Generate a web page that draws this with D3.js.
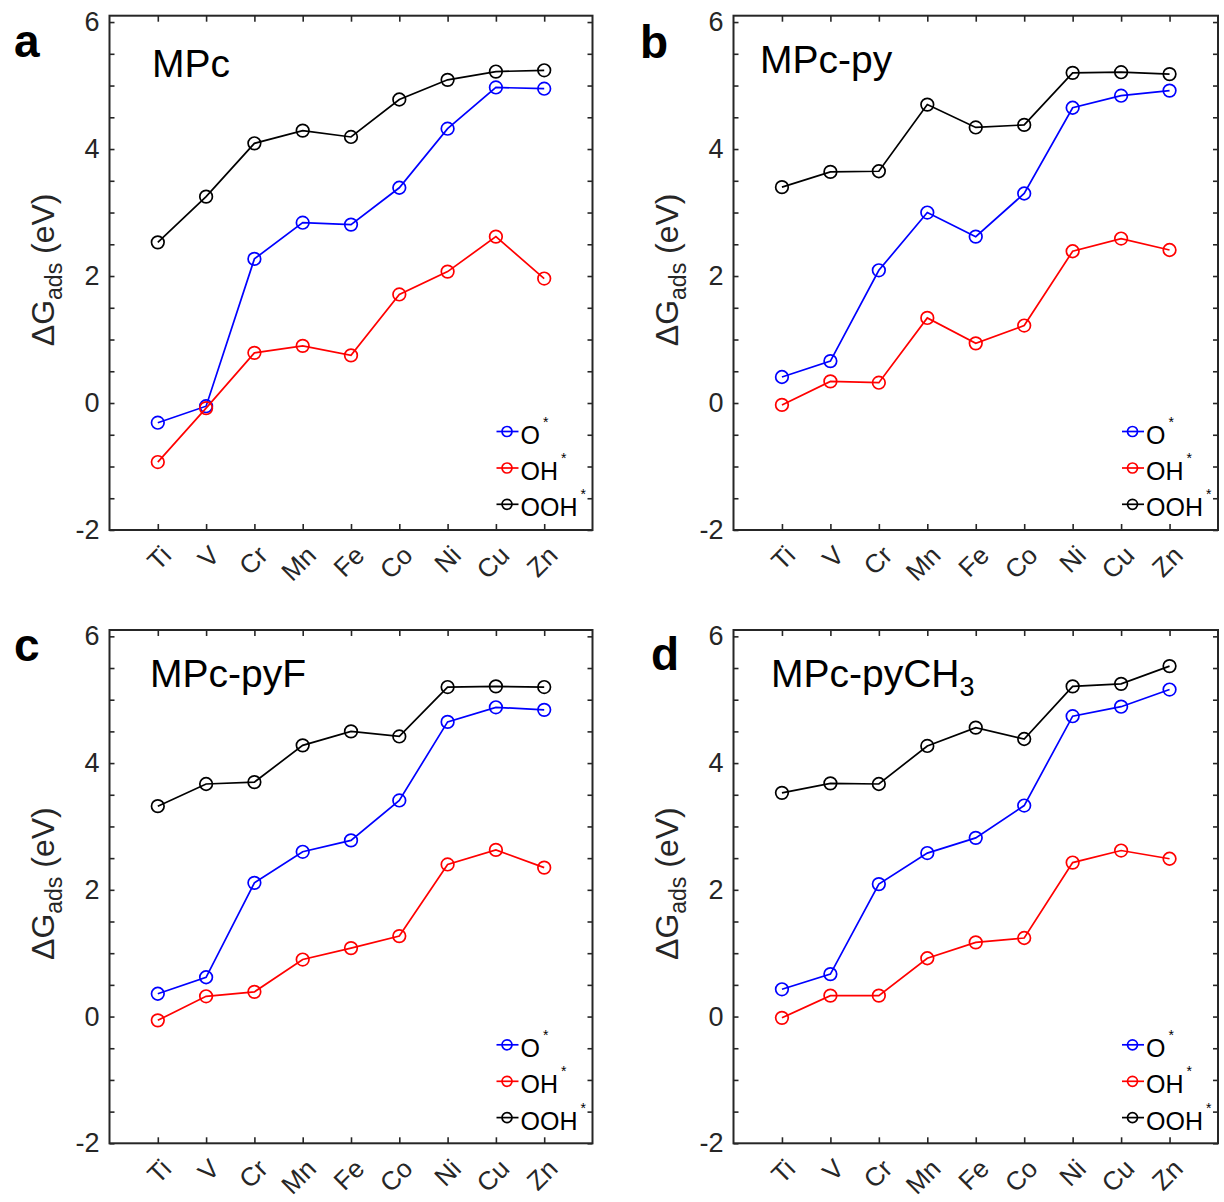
<!DOCTYPE html>
<html>
<head>
<meta charset="utf-8">
<script src="https://cdn.jsdelivr.net/npm/d3@7"></script>
<style>
  html, body { margin: 0; padding: 0; background: #fff; }
  svg { display: block; }
  text { font-family: "Liberation Sans", Arial, Helvetica, sans-serif; }
</style>
</head>
<body>
<svg id="chart" width="1224" height="1202"></svg>
<script>
// ---------- data ----------
const categories = ["Ti", "V", "Cr", "Mn", "Fe", "Co", "Ni", "Cu", "Zn"];
const seriesNames = ["O", "OH", "OOH"];
const seriesColors = ["#0000ff", "#ff0000", "#000000"];
const yTickValues = [-2, -1.5, -1, -0.5, 0, 0.5, 1, 1.5, 2, 2.5, 3, 3.5, 4, 4.5, 5, 5.5, 6];
const yTickLabels = [-2, 0, 2, 4, 6];

const panelLetters = ["a", "b", "c", "d"];
const panelTitles = ["MPc", "MPc-py", "MPc-pyF", "MPc-pyCH"];
const panelTitleSubs = ["", "", "", "3"];

// panel a: MPc
const mpcO   = [-0.31, -0.05, 2.27, 2.84, 2.81, 3.39, 4.32, 4.97, 4.95];
const mpcOH  = [-0.93, -0.08, 0.79, 0.90, 0.75, 1.71, 2.07, 2.62, 1.96];
const mpcOOH = [2.53, 3.25, 4.09, 4.29, 4.19, 4.78, 5.09, 5.22, 5.24];
// panel b: MPc-py
const pyO   = [0.41, 0.66, 2.09, 3.00, 2.62, 3.30, 4.65, 4.84, 4.92];
const pyOH  = [-0.03, 0.34, 0.32, 1.34, 0.94, 1.22, 2.39, 2.59, 2.41];
const pyOOH = [3.40, 3.64, 3.65, 4.70, 4.34, 4.38, 5.20, 5.21, 5.18];
// panel c: MPc-pyF
const pyFO   = [0.36, 0.62, 2.11, 2.60, 2.78, 3.41, 4.65, 4.88, 4.84];
const pyFOH  = [-0.06, 0.32, 0.39, 0.90, 1.08, 1.27, 2.40, 2.63, 2.35];
const pyFOOH = [3.32, 3.67, 3.70, 4.28, 4.50, 4.42, 5.20, 5.21, 5.20];
// panel d: MPc-pyCH3
const pyMeO   = [0.43, 0.67, 2.09, 2.58, 2.82, 3.33, 4.74, 4.89, 5.16];
const pyMeOH  = [-0.02, 0.33, 0.33, 0.92, 1.17, 1.24, 2.43, 2.62, 2.49];
const pyMeOOH = [3.53, 3.68, 3.67, 4.27, 4.56, 4.38, 5.21, 5.25, 5.53];

const panelSeries = [
  [mpcO, mpcOH, mpcOOH],
  [pyO, pyOH, pyOOH],
  [pyFO, pyFOH, pyFOOH],
  [pyMeO, pyMeOH, pyMeOOH]
];

// ---------- layout ----------
const frames = [
  { left: 109.5, right: 592.5, top: 15.7, bottom: 530, letterX: 14, letterY: 57, titleX: 152, titleY: 77 },
  { left: 733.5, right: 1218, top: 15.7, bottom: 530, letterX: 640, letterY: 58, titleX: 760, titleY: 73 },
  { left: 109.5, right: 592.5, top: 630, bottom: 1143.3, letterX: 14, letterY: 661, titleX: 150, titleY: 687 },
  { left: 733.5, right: 1218, top: 630, bottom: 1143.3, letterX: 651, letterY: 670, titleX: 771, titleY: 687 }
];

const axisColor = "#262626";
const tickFont = 27;
const xLabFont = 26;
const svg = d3.select("#chart");

frames.forEach((f, p) => {
  const g = svg.append("g");
  const x = d3.scaleLinear().domain([0, categories.length + 1]).range([f.left, f.right]);
  const y = d3.scaleLinear().domain([-2, 6.1]).range([f.bottom, f.top]);

  // y axes (left with labels, right ticks only)
  const yLeft = d3.axisLeft(y).tickValues(yTickValues).tickSize(-5).tickPadding(10)
    .tickFormat(v => yTickLabels.includes(v) ? String(v) : "");
  const yl = g.append("g").attr("transform", `translate(${f.left},0)`).call(yLeft);
  const yRight = d3.axisRight(y).tickValues(yTickValues).tickSize(-5).tickFormat("");
  const yr = g.append("g").attr("transform", `translate(${f.right},0)`).call(yRight);

  // x axes (bottom with rotated labels, top ticks only)
  const xIdx = categories.map((c, i) => i + 1);
  const xBottom = d3.axisBottom(x).tickValues(xIdx).tickSize(-6).tickFormat("");
  const xb = g.append("g").attr("transform", `translate(0,${f.bottom})`).call(xBottom);
  const xTop = d3.axisTop(x).tickValues(xIdx).tickSize(-6).tickFormat("");
  const xt = g.append("g").attr("transform", `translate(0,${f.top})`).call(xTop);

  [yl, yr, xb, xt].forEach(a => {
    a.attr("font-size", null).attr("font-family", null);
    a.select(".domain").remove();
    a.selectAll(".tick line").attr("stroke", axisColor).attr("stroke-width", 1.6);
    a.selectAll(".tick text").attr("fill", axisColor).style("font-size", tickFont + "px");
  });

  // rotated category labels
  g.selectAll(".xlab").data(categories).join("text")
    .attr("class", "xlab")
    .attr("transform", (d, i) => `translate(${x(i + 1) + 15},${f.bottom + 27}) rotate(-45)`)
    .attr("text-anchor", "end")
    .style("font-size", xLabFont + "px")
    .attr("fill", axisColor)
    .text(d => d);

  // frame
  g.append("rect")
    .attr("x", f.left).attr("y", f.top)
    .attr("width", f.right - f.left).attr("height", f.bottom - f.top)
    .attr("fill", "none").attr("stroke", axisColor).attr("stroke-width", 2);

  // series
  const line = d3.line().x((d, i) => x(i + 1)).y(d => y(d));
  panelSeries[p].forEach((vals, s) => {
    const sg = g.append("g");
    sg.append("path").datum(vals)
      .attr("d", line).attr("fill", "none")
      .attr("stroke", seriesColors[s]).attr("stroke-width", 1.7);
    sg.selectAll("circle").data(vals).join("circle")
      .attr("cx", (d, i) => x(i + 1)).attr("cy", d => y(d)).attr("r", 6.3)
      .attr("fill", "none").attr("stroke", seriesColors[s]).attr("stroke-width", 1.7);
  });

  // legend
  const legRows = [f.bottom - 98.5, f.bottom - 62, f.bottom - 25.7];
  seriesNames.forEach((name, s) => {
    const ly = legRows[s];
    g.append("line")
      .attr("x1", f.right - 96).attr("x2", f.right - 74)
      .attr("y1", ly).attr("y2", ly)
      .attr("stroke", seriesColors[s]).attr("stroke-width", 1.7);
    g.append("circle")
      .attr("cx", f.right - 85.5).attr("cy", ly).attr("r", 5)
      .attr("fill", "none").attr("stroke", seriesColors[s]).attr("stroke-width", 1.7);
    const t = g.append("text")
      .attr("x", f.right - 72).attr("y", ly + 12)
      .style("font-size", "25px").attr("fill", "#000");
    t.append("tspan").text(name);
    t.append("tspan").attr("dx", 3).attr("dy", -17).style("font-size", "14px").text("*");
  });

  // y-axis label
  const yl2 = g.append("text")
    .attr("transform", `translate(${f.left - 56},${(f.top + f.bottom) / 2 - 3}) rotate(-90)`)
    .attr("text-anchor", "middle")
    .style("font-size", "32px")
    .attr("fill", axisColor);
  yl2.append("tspan").text("\u0394G");
  yl2.append("tspan").attr("dy", 8).style("font-size", "23px").text("ads");
  yl2.append("tspan").attr("dy", -8).text(" (eV)");

  // panel title
  const tt = g.append("text")
    .attr("x", f.titleX).attr("y", f.titleY)
    .style("font-size", "39px").attr("fill", "#000");
  tt.append("tspan").text(panelTitles[p]);
  if (panelTitleSubs[p]) {
    tt.append("tspan").attr("dy", 9).style("font-size", "27px").text(panelTitleSubs[p]);
  }

  // panel letter
  g.append("text")
    .attr("x", f.letterX).attr("y", f.letterY)
    .style("font-size", "46px").attr("font-weight", "bold").attr("fill", "#000")
    .text(panelLetters[p]);
});
</script>
</body>
</html>
